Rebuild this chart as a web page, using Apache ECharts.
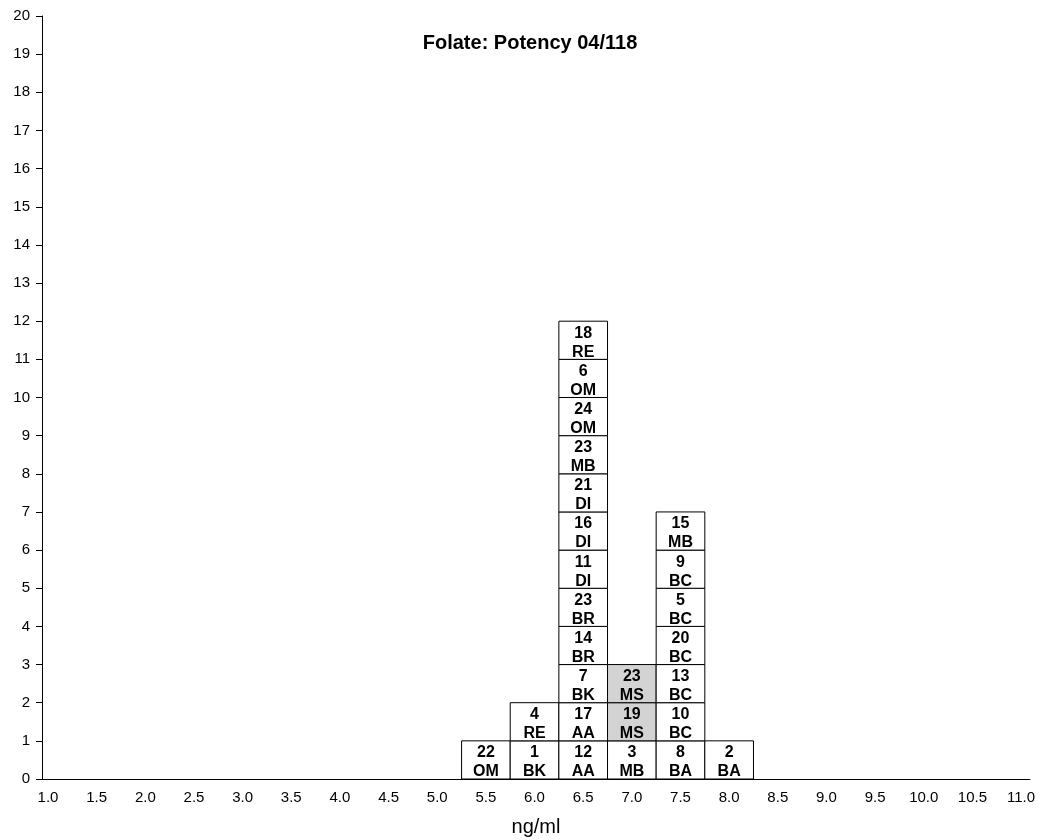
<!DOCTYPE html>
<html>
<head>
<meta charset="utf-8">
<script src="https://cdn.jsdelivr.net/npm/echarts@6/dist/echarts.min.js"></script>
<style>
html,body{margin:0;padding:0;background:#fff;}
#chart{width:1041px;height:840px;}
</style>
</head>
<body>
<div id="chart"></div>
<script>
// ---- data ----
const titleText = "Folate: Potency 04/118";
const xAxisName = "ng/ml";
const xTickValues = [1.0,1.5,2.0,2.5,3.0,3.5,4.0,4.5,5.0,5.5,6.0,6.5,7.0,7.5,8.0,8.5,9.0,9.5,10.0,10.5,11.0];
const binValues = [5.5, 6.0, 6.5, 7.0, 7.5, 8.0];
// each bin, bottom to top: [lab number, method code]
const binEntries = [
  [["22","OM"]],
  [["1","BK"],["4","RE"]],
  [["12","AA"],["17","AA"],["7","BK"],["14","BR"],["23","BR"],["11","DI"],["16","DI"],["21","DI"],["23","MB"],["24","OM"],["6","OM"],["18","RE"]],
  [["3","MB"],["19","MS"],["23","MS"]],
  [["8","BA"],["10","BC"],["13","BC"],["20","BC"],["5","BC"],["9","BC"],["15","MB"]],
  [["2","BA"]]
];
const highlightCodes = ["MS"];

// ---- build ----
const boxes = [];
binValues.forEach((v, i) => {
  binEntries[i].forEach((e, lvl) => {
    boxes.push([v, lvl, e[0], e[1]]);
  });
});

const FONT = "'Liberation Sans', Arial, Helvetica, sans-serif";
const chart = echarts.init(document.getElementById('chart'), null, {renderer: 'canvas'});
chart.setOption({
  animation: false,
  backgroundColor: '#fff',
  title: {
    text: titleText,
    left: 525, top: 28, textAlign: 'center',
    textStyle: {fontFamily: FONT, fontSize: 20, fontWeight: 'bold', color: '#000'}
  },
  grid: {left: 42, right: 11, top: 16, bottom: 61, containLabel: false, outerBoundsMode: 'none'},
  xAxis: {
    type: 'value',
    min: 0.938, max: 11.092,
    name: xAxisName, nameLocation: 'middle', nameGap: 38,
    nameTextStyle: {fontFamily: FONT, fontSize: 20, color: '#000'},
    axisLine: {show: true, onZero: false, lineStyle: {color: '#000', width: 1}},
    axisTick: {show: false},
    splitLine: {show: false},
    axisLabel: {
      customValues: xTickValues,
      formatter: v => Number(v).toFixed(1),
      fontFamily: FONT, fontSize: 15, color: '#000', margin: 11
    }
  },
  yAxis: {
    type: 'value', min: 0, max: 20, interval: 1,
    axisLine: {show: true, lineStyle: {color: '#000', width: 1}},
    axisTick: {show: true, length: 6, lineStyle: {color: '#000'}},
    splitLine: {show: false},
    axisLabel: {fontFamily: FONT, fontSize: 15, color: '#000', margin: 12}
  },
  series: [{
    type: 'custom',
    data: boxes,
    encode: {x: 0, y: 1},
    renderItem: function (params, api) {
      const x = api.value(0), lvl = api.value(1);
      const d = boxes[params.dataIndex];
      const p0 = api.coord([x - 0.25, lvl + 1]);
      const p1 = api.coord([x + 0.25, lvl]);
      const w = p1[0] - p0[0], h = p1[1] - p0[1];
      const hl = highlightCodes.indexOf(d[3]) >= 0;
      return {
        type: 'group',
        children: [
          {type: 'rect', shape: {x: p0[0], y: p0[1], width: w, height: h},
           style: {fill: hl ? '#d3d3d3' : '#fff', stroke: '#000', lineWidth: 1}},
          {type: 'text', x: p0[0] + w / 2, y: p0[1] + h / 2 + 2.5,
           style: {text: d[2] + '\n' + d[3], align: 'center', verticalAlign: 'middle',
             font: 'bold 16px ' + FONT, lineHeight: 19, fill: '#000'}}
        ]
      };
    }
  }]
});
</script>
</body>
</html>
